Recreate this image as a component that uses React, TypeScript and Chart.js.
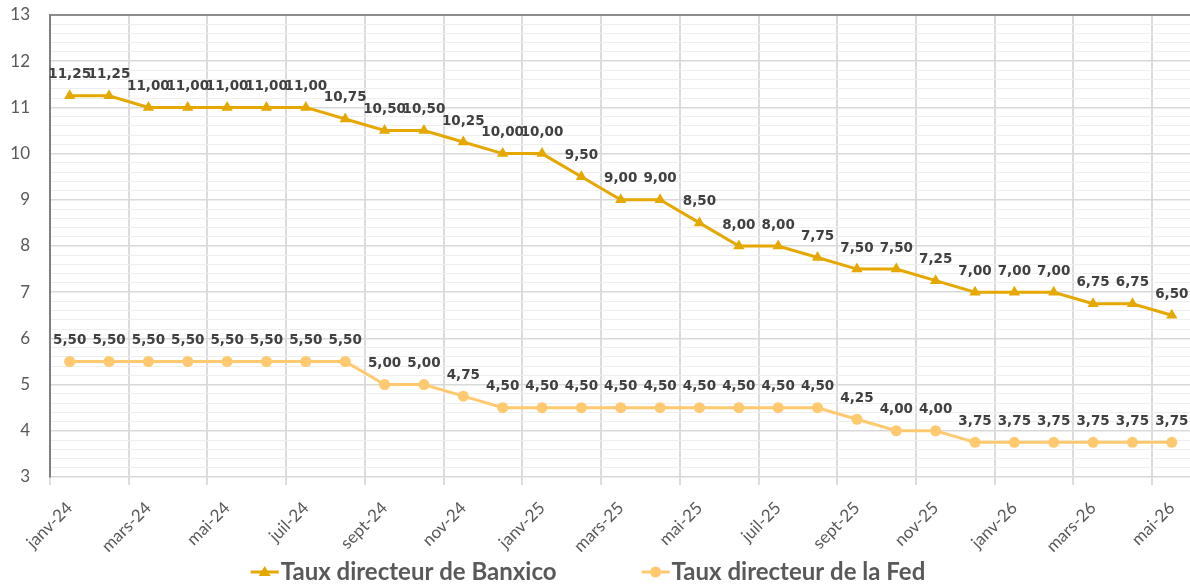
import React, { useEffect, useRef } from "react";
import { Chart, registerables } from "chart.js";

Chart.register(...registerables);

const MONTHS = [
  "janv-24", "févr-24", "mars-24", "avr-24", "mai-24", "juin-24", "juil-24", "août-24", "sept-24", "oct-24", "nov-24", "déc-24",
  "janv-25", "févr-25", "mars-25", "avr-25", "mai-25", "juin-25", "juil-25", "août-25", "sept-25", "oct-25", "nov-25", "déc-25",
  "janv-26", "févr-26", "mars-26", "avr-26", "mai-26",
];

const BANXICO = [
  11.25, 11.25, 11.0, 11.0, 11.0, 11.0, 11.0, 10.75, 10.5, 10.5, 10.25, 10.0,
  10.0, 9.5, 9.0, 9.0, 8.5, 8.0, 8.0, 7.75, 7.5, 7.5, 7.25, 7.0,
  7.0, 7.0, 6.75, 6.75, 6.5,
];

const FED = [
  5.5, 5.5, 5.5, 5.5, 5.5, 5.5, 5.5, 5.5, 5.0, 5.0, 4.75, 4.5,
  4.5, 4.5, 4.5, 4.5, 4.5, 4.5, 4.5, 4.5, 4.25, 4.0, 4.0, 3.75,
  3.75, 3.75, 3.75, 3.75, 3.75,
];

const SERIES_NAMES = ["Taux directeur de Banxico", "Taux directeur de la Fed"];
const Y_MIN = 3;
const Y_MAX = 13;

const BANXICO_COLOR = "#E5A800";
const FED_COLOR = "#FFC970";
const LABEL_COLOR = "#404040";
const AXIS_TEXT = "#595959";

const fmt = (v: number) => v.toFixed(2).replace(".", ",");

const dataLabelsPlugin = {
  id: "dataLabels",
  afterDatasetsDraw(chart: any) {
    const ctx = chart.ctx;
    ctx.save();
    ctx.font = "bold 13.5px 'DejaVu Sans'";
    ctx.fillStyle = LABEL_COLOR;
    ctx.textAlign = "center";
    ctx.textBaseline = "middle";
    chart.data.datasets.forEach((ds: any, di: number) => {
      const meta = chart.getDatasetMeta(di);
      meta.data.forEach((pt: any, i: number) => {
        ctx.fillText(fmt(ds.data[i]), pt.x, pt.y - 21);
      });
    });
    ctx.restore();
  },
};

const legendPlugin = {
  id: "customLegend",
  afterDraw(chart: any) {
    const ctx = chart.ctx;
    ctx.save();
    ctx.font = "bold 24px Lato";
    const markerW = 28;
    const gap = 2;
    const spacing = 85;
    const widths = SERIES_NAMES.map((n) => ctx.measureText(n).width);
    const total = widths.reduce((a, w) => a + markerW + gap + w, 0) + spacing;
    let x = 588 - total / 2;
    const y = 572;
    const colors = [BANXICO_COLOR, FED_COLOR];
    SERIES_NAMES.forEach((name, i) => {
      ctx.strokeStyle = colors[i];
      ctx.lineWidth = 3;
      ctx.beginPath();
      ctx.moveTo(x, y);
      ctx.lineTo(x + markerW, y);
      ctx.stroke();
      ctx.fillStyle = colors[i];
      const cx = x + markerW / 2;
      if (i === 0) {
        ctx.beginPath();
        ctx.moveTo(cx, y - 6);
        ctx.lineTo(cx + 6, y + 4);
        ctx.lineTo(cx - 6, y + 4);
        ctx.closePath();
        ctx.fill();
      } else {
        ctx.beginPath();
        ctx.arc(cx, y, 5.5, 0, Math.PI * 2);
        ctx.fill();
      }
      ctx.fillStyle = AXIS_TEXT;
      ctx.textAlign = "left";
      ctx.textBaseline = "middle";
      ctx.fillText(name, x + markerW + gap, y);
      x += markerW + gap + widths[i] + spacing;
    });
    ctx.restore();
  },
};

const isInt = (v: number) => Math.abs(v - Math.round(v)) < 1e-6;

export default function App() {
  const ref = useRef<HTMLCanvasElement>(null);

  useEffect(() => {
    if (!ref.current) return;
    const chart = new Chart(ref.current, {
      type: "line",
      data: {
        labels: MONTHS,
        datasets: [
          {
            label: SERIES_NAMES[0],
            data: BANXICO,
            borderColor: BANXICO_COLOR,
            backgroundColor: BANXICO_COLOR,
            borderWidth: 3,
            pointStyle: "triangle",
            pointRadius: 6.5,
            pointBorderWidth: 0,
            tension: 0,
          },
          {
            label: SERIES_NAMES[1],
            data: FED,
            borderColor: FED_COLOR,
            backgroundColor: FED_COLOR,
            borderWidth: 3,
            pointStyle: "circle",
            pointRadius: 5.5,
            pointBorderWidth: 0,
            tension: 0,
          },
        ],
      },
      options: {
        responsive: false,
        animation: false,
        devicePixelRatio: 1,
        layout: { padding: { top: 15, left: 0, right: 0, bottom: 0 } },
        plugins: {
          legend: { display: false },
          tooltip: { enabled: false },
        },
        scales: {
          x: {
            type: "category",
            offset: true,
            grid: {
              offset: true,
              color: (c: any) => (c.index % 2 === 0 ? "#dcdcdc" : "rgba(0,0,0,0)"),
              lineWidth: 2,
              tickLength: 8,
            },
            border: { display: false },
            ticks: {
              autoSkip: false,
              minRotation: 45,
              maxRotation: 45,
              padding: 13,
              color: AXIS_TEXT,
              font: { family: "Lato", size: 17 },
              callback: (_v: any, i: number) => (i % 2 === 0 ? MONTHS[i] : ""),
            },
            afterFit: (s: any) => {
              s.height = 111;
              s.paddingLeft = 0;
              s.paddingRight = 0;
            },
          },
          y: {
            min: Y_MIN,
            max: Y_MAX,
            grid: {
              drawTicks: false,
              color: (c: any) => {
                const v = c.tick ? c.tick.value : 0;
                if (Math.abs(v - Y_MAX) < 1e-6) return "#8c8c8c";
                return isInt(v) ? "#d9d9d9" : "#efefef";
              },
              lineWidth: (c: any) => {
                const v = c.tick ? c.tick.value : 0;
                if (Math.abs(v - Y_MAX) < 1e-6) return 2;
                return isInt(v) ? 1.5 : 1;
              },
            },
            border: { display: true, color: "#7f7f7f", width: 2 },
            ticks: {
              stepSize: 0.2,
              autoSkip: false,
              padding: 20,
              color: AXIS_TEXT,
              font: { family: "Lato", size: 17 },
              callback: (v: any) => (isInt(Number(v)) ? String(Math.round(Number(v))) : ""),
            },
            afterFit: (s: any) => {
              s.width = 50;
              s.paddingTop = 0;
              s.paddingBottom = 0;
            },
          },
        },
      },
      plugins: [dataLabelsPlugin, legendPlugin],
    });
    return () => chart.destroy();
  }, []);

  return (
    <div style={{ position: "fixed", left: 0, top: 0, width: 1190, height: 588, overflow: "hidden", background: "#fff" }}>
      <canvas ref={ref} width={1198} height={588} style={{ display: "block" }} />
    </div>
  );
}
